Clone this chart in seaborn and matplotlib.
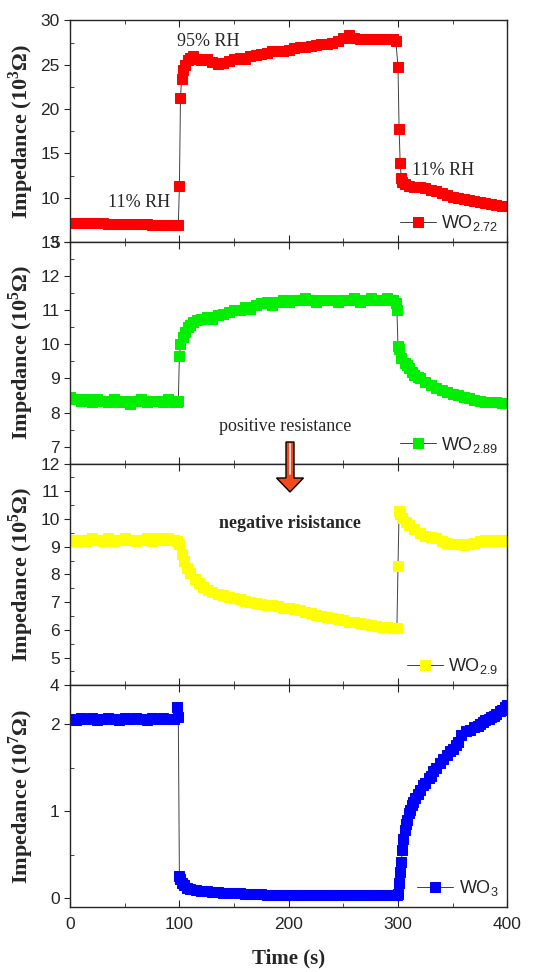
import numpy as np
import seaborn as sns
import matplotlib.pyplot as plt
from matplotlib.patches import FancyArrow
from matplotlib.ticker import MultipleLocator

# --- data ---
t_272 = [0, 5, 10, 15, 20, 25, 30, 35, 40, 45, 50, 55, 60, 65, 70, 75, 80, 85, 90, 95,
         98, 99, 100, 101, 102, 103, 105, 108, 110, 112, 116, 120, 125, 130, 135, 140, 145,
         150, 155, 160, 165, 170, 175, 180, 185, 190, 195, 200, 205, 210, 215, 220, 225,
         230, 235, 240, 245, 250, 255, 260, 265, 270, 275, 280, 285, 290, 295, 298,
         300, 301, 302, 303, 304, 306, 310, 315, 320, 325, 330, 335, 340, 345, 350,
         355, 360, 365, 370, 375, 380, 385, 390, 395, 400]
z_272 = [7.2, 7.18, 7.16, 7.15, 7.13, 7.12, 7.1, 7.08, 7.07, 7.05, 7.03, 7.02, 7.0, 6.99,
         6.98, 6.97, 6.95, 6.94, 6.93, 6.92,
         6.9, 6.9, 11.3, 21.3, 23.4, 24.4, 25.0, 25.5, 25.8, 26.0, 25.7, 25.5, 25.7, 25.3,
         25.1, 25.2, 25.4, 25.6, 25.8, 25.7, 26.0, 26.1, 26.2, 26.3, 26.5, 26.5, 26.6,
         26.7, 26.9, 27.0, 27.0, 27.1, 27.2, 27.3, 27.3, 27.5, 27.7, 28.0, 28.3, 28.0,
         27.9, 27.9, 27.9, 27.9, 27.9, 27.9, 27.9, 27.7,
         24.8, 17.8, 13.9, 12.2, 11.8, 11.5, 11.3, 11.2, 11.2, 11.1, 10.9, 10.7, 10.5,
         10.3, 10.1, 10.0, 9.85, 9.7, 9.6, 9.5, 9.4, 9.3, 9.2, 9.1, 9.05]

t_289 = [0, 5, 10, 15, 20, 25, 30, 35, 40, 45, 50, 55, 60, 65, 70, 75, 80, 85, 90, 95,
         98, 99, 100, 101, 103, 105, 108, 110, 112, 116, 120, 125, 130, 135, 140, 145, 150,
         155, 160, 165, 170, 175, 180, 185, 190, 195, 200, 205, 210, 215, 220, 225, 230,
         235, 240, 245, 250, 255, 260, 265, 270, 275, 280, 285, 290, 295, 298, 299,
         300, 301, 303, 306, 308, 310, 313, 315, 318, 320, 325, 330, 335, 340, 345, 350,
         355, 360, 365, 370, 375, 380, 385, 390, 395, 400]
z_289 = [8.45, 8.4, 8.35, 8.4, 8.3, 8.4, 8.35, 8.3, 8.4, 8.3, 8.35, 8.25, 8.35, 8.4, 8.3,
         8.35, 8.35, 8.3, 8.4, 8.3,
         8.3, 8.35, 9.65, 10.0, 10.2, 10.35, 10.5, 10.58, 10.65, 10.7, 10.75, 10.8, 10.75,
         10.85, 10.9, 10.95, 11.0, 11.0, 11.1, 11.05, 11.15, 11.2, 11.25, 11.15, 11.25,
         11.3, 11.25, 11.3, 11.3, 11.35, 11.3, 11.25, 11.3, 11.3, 11.3, 11.25, 11.3,
         11.3, 11.35, 11.25, 11.3, 11.35, 11.3, 11.3, 11.35, 11.3, 11.2, 11.0,
         9.95, 9.85, 9.6, 9.45, 9.38, 9.3, 9.2, 9.1, 9.05, 9.0, 8.9, 8.8, 8.72, 8.65,
         8.6, 8.55, 8.5, 8.45, 8.42, 8.38, 8.35, 8.32, 8.3, 8.3, 8.28, 8.28]

t_29 = [0, 5, 10, 15, 20, 25, 30, 35, 40, 45, 50, 55, 60, 65, 70, 75, 80, 85, 90, 95,
        98, 100, 102, 104, 107, 110, 114, 118, 122, 126, 130, 135, 140, 145, 150, 155,
        160, 165, 170, 175, 180, 185, 190, 195, 200, 205, 210, 215, 220, 225, 230, 235,
        240, 245, 250, 255, 260, 265, 270, 275, 280, 285, 290, 295, 299,
        300, 301, 302, 304, 307, 310, 315, 320, 325, 330, 335, 340, 345, 350, 355, 360,
        365, 370, 375, 380, 385, 390, 395, 400]
z_29 = [9.25, 9.2, 9.25, 9.2, 9.3, 9.25, 9.2, 9.3, 9.2, 9.25, 9.3, 9.25, 9.2, 9.25, 9.3,
        9.2, 9.3, 9.25, 9.3, 9.25,
        9.2, 9.1, 8.75, 8.5, 8.25, 8.05, 7.85, 7.7, 7.55, 7.45, 7.38, 7.3, 7.25, 7.2,
        7.15, 7.1, 7.05, 7.0, 6.98, 6.95, 6.9, 6.88, 6.85, 6.8, 6.78, 6.75, 6.7, 6.65,
        6.6, 6.55, 6.5, 6.45, 6.42, 6.4, 6.35, 6.3, 6.28, 6.25, 6.2, 6.18, 6.15, 6.12,
        6.1, 6.08, 6.05,
        8.3, 10.3, 10.2, 10.05, 9.9, 9.8, 9.65, 9.5, 9.4, 9.35, 9.3, 9.2, 9.15, 9.1, 9.1,
        9.05, 9.1, 9.15, 9.2, 9.25, 9.2, 9.25, 9.2, 9.25]

t_3 = [0, 5, 10, 15, 20, 25, 30, 35, 40, 45, 50, 55, 60, 65, 70, 75, 80, 85, 90, 95,
       98, 99, 100, 101, 102, 104, 107, 110, 115, 120, 125, 130, 135, 140, 145, 150, 155,
       160, 165, 170, 175, 180, 185, 190, 195, 200, 205, 210, 215, 220, 225, 230, 235,
       240, 245, 250, 255, 260, 265, 270, 275, 280, 285, 290, 295, 299,
       300, 301, 302, 303, 304, 305, 306, 307, 308, 310, 311, 313, 314, 316, 318, 320,
       323, 325, 328, 330, 332, 335, 338, 341, 345, 348, 350, 353, 355, 358, 362, 366,
       370, 373, 375, 378, 380, 383, 385, 388, 390, 393, 395, 398, 400]
z_3 = [2.06, 2.05, 2.07, 2.06, 2.07, 2.05, 2.06, 2.07, 2.06, 2.05, 2.07, 2.06, 2.07, 2.06,
       2.05, 2.07, 2.06, 2.07, 2.06, 2.06,
       2.2, 2.08, 0.25, 0.22, 0.18, 0.15, 0.12, 0.1, 0.09, 0.085, 0.08, 0.075, 0.07,
       0.065, 0.062, 0.06, 0.055, 0.05, 0.048, 0.045, 0.043, 0.04, 0.04, 0.04, 0.04,
       0.04, 0.04, 0.04, 0.04, 0.04, 0.04, 0.04, 0.04, 0.04, 0.04, 0.04, 0.04, 0.04,
       0.04, 0.04, 0.04, 0.04, 0.04, 0.04, 0.04, 0.04,
       0.05, 0.17, 0.3, 0.42, 0.55, 0.68, 0.78, 0.85, 0.9, 0.98, 1.02, 1.07, 1.11, 1.15,
       1.2, 1.24, 1.3, 1.33, 1.38, 1.41, 1.46, 1.5, 1.55, 1.6, 1.65, 1.69, 1.72, 1.76,
       1.8, 1.88, 1.92, 1.94, 1.97, 1.98, 2.0, 2.03, 2.05, 2.06, 2.08, 2.1, 2.12, 2.15,
       2.17, 2.2, 2.22]

series = [
    (t_272, z_272, "#ff0000", r"WO$_{2.72}$", r"Impedance (10$^{\mathbf{3}}$Ω)"),
    (t_289, z_289, "#00ee00", r"WO$_{2.89}$", r"Impedance (10$^{\mathbf{5}}$Ω)"),
    (t_29, z_29, "#ffff00", r"WO$_{2.9}$", r"Impedance (10$^{\mathbf{5}}$Ω)"),
    (t_3, z_3, "#0000ff", r"WO$_{3}$", r"Impedance (10$^{\mathbf{7}}$Ω)"),
]
ylims = [(5, 30), (6.5, 13), (4, 12), (-0.1, 2.45)]
ysteps = [(5, 2.5), (1, 0.5), (1, 0.5), (1, 0.5)]

sns.set_style("ticks")
plt.rcParams["font.family"] = ["Liberation Sans", "DejaVu Sans"]
plt.rcParams["mathtext.fontset"] = "custom"
plt.rcParams["mathtext.rm"] = "Liberation Sans"
plt.rcParams["mathtext.bf"] = "Liberation Serif:bold"

fig, axes = plt.subplots(4, 1, figsize=(5.52, 9.72), dpi=100, sharex=True)
fig.subplots_adjust(left=0.127, right=0.919, top=0.979, bottom=0.067, hspace=0)

for ax, (t, z, col, lab, ylab), lim, (maj, mnr) in zip(axes, series, ylims, ysteps):
    sns.lineplot(x=t, y=z, ax=ax, color="0.25", linewidth=0.7, marker="s",
                 markersize=6.5, markerfacecolor=col, markeredgecolor=col,
                 estimator=None, sort=False, label=lab)
    ax.set_xlim(0, 400)
    ax.set_ylim(*lim)
    ax.xaxis.set_major_locator(MultipleLocator(100))
    ax.xaxis.set_minor_locator(MultipleLocator(50))
    ax.yaxis.set_major_locator(MultipleLocator(maj))
    ax.yaxis.set_minor_locator(MultipleLocator(mnr))
    ax.tick_params(axis="x", which="both", direction="in", top=True, labelsize=12.5,
                   pad=7)
    ax.tick_params(axis="x", which="major", length=5)
    ax.tick_params(axis="x", which="minor", length=3)
    ax.tick_params(axis="y", which="major", direction="out", length=4, labelsize=12.5)
    ax.tick_params(axis="y", which="minor", direction="in", length=3)
    for s in ax.spines.values():
        s.set_linewidth(1.0)
        s.set_color("0.15")
    ax.set_ylabel(ylab, fontsize=16, fontweight="bold", family="Liberation Serif")
    ax.yaxis.set_label_coords(-0.078, 0.5)
    ax.legend(loc="lower right", frameon=False, fontsize=13, handlelength=2.0,
              handletextpad=0.3, borderaxespad=0.1)

serif = dict(family="Liberation Serif", fontsize=13)
axes[0].text(98, 27.6, "95% RH", va="center", ha="left", **serif)
axes[0].text(35, 9.5, "11% RH", va="center", ha="left", **serif)
axes[0].text(313, 13.1, "11% RH", va="center", ha="left", **serif)
axes[1].text(197, 7.58, "positive resistance", va="center", ha="center", **serif)
axes[2].text(201, 9.85, "negative risistance", va="center", ha="center",
             fontweight="bold", **serif)

axes[3].set_xlabel("Time (s)", fontsize=15, fontweight="bold",
                   family="Liberation Serif", labelpad=12)

# arrow between the second and third panels (inches from lower-left)
arr = FancyArrow(2.90, 5.30, 0, -0.50, width=0.08, head_width=0.27,
                 head_length=0.14, length_includes_head=True,
                 facecolor="#f04a1e", edgecolor="black", linewidth=1.0,
                 transform=fig.dpi_scale_trans, zorder=10)
fig.patches.append(arr)
fig.add_artist(plt.Line2D([2.90, 2.90], [5.28, 4.98], color="white", linewidth=1.2,
                          transform=fig.dpi_scale_trans, zorder=11))

fig.savefig("out.png", dpi=100)
